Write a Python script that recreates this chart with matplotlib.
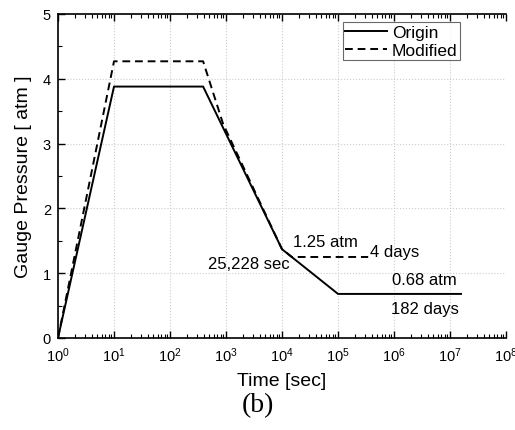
import matplotlib
matplotlib.use("Agg")
import matplotlib.pyplot as plt
from matplotlib.ticker import LogLocator, LogFormatterMathtext, MultipleLocator, NullFormatter

plt.rcParams['font.family'] = ['Liberation Sans', 'DejaVu Sans']
plt.rcParams['mathtext.fontset'] = 'custom'
plt.rcParams['mathtext.rm'] = 'Liberation Sans'
plt.rcParams['mathtext.it'] = 'Liberation Sans'

# Data
origin_t = [1, 10, 390, 1e4, 1e5, 1.57e7]
origin_p = [0, 3.88, 3.88, 1.37, 0.68, 0.68]
modified_t = [1, 10, 390, 890, 1e4, 1.5e4, 345600]
modified_p = [0, 4.27, 4.27, 3.30, 1.37, 1.25, 1.25]

fig = plt.figure(figsize=(5.15, 4.31), dpi=100)
ax = fig.add_axes([0.1126, 0.2135, 0.870, 0.7517])

ax.plot(origin_t, origin_p, color='black', lw=1.4, label='Origin')
ax.plot(modified_t, modified_p, color='black', lw=1.4, ls=(0, (4, 2.5)), label='Modified')

ax.set_xscale('log')
ax.set_xlim(1, 1e8)
ax.set_ylim(0, 5)
ax.xaxis.set_major_locator(LogLocator(base=10, numticks=20))
ax.xaxis.set_minor_locator(LogLocator(base=10, subs=range(2, 10), numticks=200))
ax.xaxis.set_major_formatter(LogFormatterMathtext())
ax.xaxis.set_minor_formatter(NullFormatter())
ax.yaxis.set_major_locator(MultipleLocator(1))
ax.yaxis.set_minor_locator(MultipleLocator(0.5))

ax.tick_params(which='both', direction='in', top=True, right=False, labelsize=10.5, pad=5)
ax.tick_params(which='major', length=5, width=1)
ax.tick_params(which='minor', length=3, width=0.8)
ax.spines['right'].set_visible(False)
for s in ['left', 'bottom', 'top']:
    ax.spines[s].set_linewidth(1.2)

ax.grid(True, which='major', color='#cccccc', ls=':', lw=0.8)

ax.set_xlabel('Time [sec]', fontsize=14, labelpad=6)
ax.set_ylabel('Gauge Pressure [ atm ]', fontsize=14, labelpad=8)

ax.text(5.9e4, 1.49, '1.25 atm', fontsize=12, ha='center', va='center')
ax.text(3.7e5, 1.34, '4 days', fontsize=12, ha='left', va='center')
ax.text(1.35e4, 1.15, '25,228 sec', fontsize=12, ha='right', va='center')
ax.text(3.5e6, 0.91, '0.68 atm', fontsize=12, ha='center', va='center')
ax.text(3.5e6, 0.45, '182 days', fontsize=12, ha='center', va='center')

leg = ax.legend(loc='upper right', bbox_to_anchor=(0.898, 0.975), fontsize=12.5,
                frameon=True, fancybox=False, edgecolor='#444444',
                handlelength=2.4, handletextpad=0.3, borderpad=0.15,
                labelspacing=0.15, borderaxespad=0)
leg.get_frame().set_linewidth(0.8)

fig.text(0.5, 0.06, '(b)', fontsize=20, ha='center', va='center',
         family=['Liberation Serif', 'DejaVu Serif'])

fig.savefig('out.png', dpi=100)
